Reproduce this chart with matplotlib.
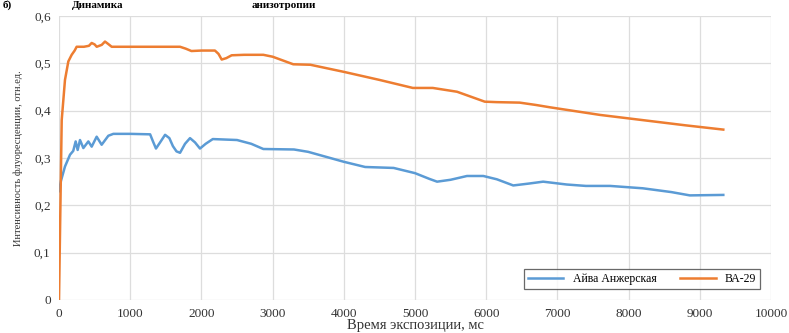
import matplotlib
matplotlib.use('Agg')
import matplotlib.pyplot as plt
from matplotlib.ticker import FuncFormatter, MultipleLocator

# Айва Анжерская
x_aiva = [0, 28, 84, 155, 200, 234, 262, 295, 342, 412, 459, 529, 599, 693, 763,
          1000, 1280, 1320, 1362, 1420, 1490, 1550, 1600, 1650, 1700, 1770, 1840,
          1910, 1980, 2060, 2160, 2500, 2700, 2870, 3300, 3500, 4000, 4300, 4700,
          5000, 5200, 5310, 5500, 5730, 5960, 6150, 6380, 6600, 6800, 7130, 7400,
          7740, 8200, 8600, 8860, 9330]
y_aiva = [0.23, 0.252, 0.282, 0.307, 0.315, 0.335, 0.317, 0.338, 0.321, 0.335, 0.324,
          0.345, 0.328, 0.347, 0.351, 0.351, 0.350, 0.335, 0.320, 0.333, 0.349, 0.342,
          0.325, 0.314, 0.311, 0.330, 0.342, 0.333, 0.320, 0.330, 0.340, 0.338, 0.330,
          0.319, 0.318, 0.313, 0.292, 0.281, 0.279, 0.268, 0.256, 0.250, 0.254, 0.262,
          0.262, 0.255, 0.242, 0.246, 0.250, 0.244, 0.241, 0.241, 0.236, 0.228, 0.221,
          0.222]

# ВА-29
x_ba29 = [0, 38, 84, 131, 178, 220, 248, 350, 420, 459, 500, 530, 600, 646, 690,
          740, 1000, 1300, 1700, 1780, 1860, 2000, 2190, 2240, 2285, 2350, 2425,
          2600, 2870, 3000, 3290, 3530, 4000, 4500, 4970, 5250, 5590, 5980, 6150,
          6470, 6700, 6900, 7600, 8200, 8800, 9330]
y_ba29 = [0.0, 0.38, 0.465, 0.504, 0.518, 0.527, 0.535, 0.535, 0.537, 0.543, 0.540,
          0.535, 0.539, 0.546, 0.541, 0.535, 0.535, 0.535, 0.535, 0.531, 0.526, 0.527,
          0.527, 0.52, 0.508, 0.511, 0.517, 0.518, 0.518, 0.514, 0.498, 0.497, 0.482,
          0.465, 0.448, 0.448, 0.440, 0.419, 0.418, 0.417, 0.412, 0.407, 0.391, 0.380,
          0.369, 0.360]

y_ticks = [0, 0.1, 0.2, 0.3, 0.4, 0.5, 0.6]

plt.rcParams['font.family'] = ['Liberation Serif', 'DejaVu Serif']

fig = plt.figure(figsize=(7.89, 3.33), dpi=100)
ax = fig.add_axes([59 / 789, 1 - 300 / 333, 712 / 789, 284 / 333])

ax.plot(x_aiva, y_aiva, color='#5B9BD5', lw=1.8, label='Айва Анжерская', solid_joinstyle='round')
ax.plot(x_ba29, y_ba29, color='#ED7D31', lw=1.8, label='ВА-29', solid_joinstyle='round')

ax.set_xlim(0, 10000)
ax.set_ylim(0, 0.6)
ax.xaxis.set_major_locator(MultipleLocator(1000))
ax.set_yticks(y_ticks)
ax.yaxis.set_major_formatter(FuncFormatter(lambda v, p: '0' if v == 0 else f'{v:.1f}'.replace('.', ',')))
ax.grid(True, color='#DDDDDD', lw=0.9)
ax.set_axisbelow(True)
for s in ax.spines.values():
    s.set_visible(False)
ax.tick_params(length=0, labelsize=9.5, colors='#333333', pad=6)

ax.set_xlabel('Время экспозиции, мс', fontsize=10.5, color='#333333', labelpad=-1)
ax.set_ylabel('Интенсивность флуоресценции, отн.ед.', fontsize=7.5, color='#333333', labelpad=8)

leg = ax.legend(loc='center', bbox_to_anchor=(0.819, 0.074), ncol=2, fontsize=8.5,
                frameon=True, fancybox=False, edgecolor='#444444', handlelength=3.0,
                columnspacing=2.0, borderpad=0.3)
leg.get_frame().set_linewidth(0.9)

# подпись над графиком
fig.text(0.003, 0.998, 'б)', fontsize=8, fontweight='bold', va='top')
fig.text(72 / 789, 0.998, 'Динамика', fontsize=8, fontweight='bold', va='top')
fig.text(252 / 789, 0.998, 'анизотропии', fontsize=8, fontweight='bold', va='top')

fig.savefig('out.png', dpi=100)
